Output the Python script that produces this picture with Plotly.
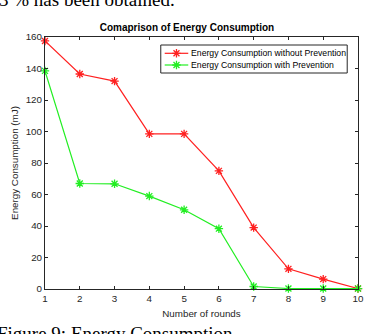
import plotly.graph_objects as go

rounds = [1, 2, 3, 4, 5, 6, 7, 8, 9, 10]
without_prev = [157.5, 136.5, 132, 98.5, 98.5, 75, 39, 12.8, 6.3, 0.3]
with_prev = [138.5, 67, 66.8, 59, 50.3, 38.3, 1.6, 0.3, 0.3, 0.3]
y_ticks = [0, 20, 40, 60, 80, 100, 120, 140, 160]
x_ticks = [1, 2, 3, 4, 5, 6, 7, 8, 9, 10]
series_names = ["Energy Consumption without Prevention", "Energy Consumption with Prevention"]

RED = "#ff2020"
GREEN = "#22ee22"
AX = "#262626"
colors = [RED, GREEN]

L, R, T, B = 45, 11, 37, 45
W, H = 375, 334
pw, ph = W - L - R, H - T - B

def px(x):
    return (x - L) / pw

def py(y):
    return (H - B - y) / ph

fig = go.Figure()
for name, vals, col in zip(series_names, [without_prev, with_prev], colors):
    fig.add_trace(go.Scatter(
        x=rounds, y=vals, mode="lines+markers", name=name,
        line=dict(color=col, width=1.2),
        marker=dict(symbol="asterisk-open", size=7, line=dict(color=col, width=1.3), color=col),
        cliponaxis=False, showlegend=False,
    ))

# manual legend (MATLAB-style compact box), in pixel space on a hidden overlay axis
leg_box = (163, 45, 353, 73)
leg_rows = [53.3, 65]
fig.add_shape(type="rect", xref="paper", yref="paper",
              x0=px(leg_box[0]), x1=px(leg_box[2]), y0=py(leg_box[1]), y1=py(leg_box[3]),
              line=dict(color=AX, width=1), fillcolor="white", layer="below")
for name, col, ry in zip(series_names, colors, leg_rows):
    fig.add_trace(go.Scatter(
        x=[167, 179, 191], y=[ry, ry, ry], xaxis="x2", yaxis="y2",
        mode="lines", line=dict(color=col, width=1.2), showlegend=False, hoverinfo="skip"))
    fig.add_trace(go.Scatter(
        x=[179], y=[ry], xaxis="x2", yaxis="y2", mode="markers",
        marker=dict(symbol="asterisk-open", size=7, line=dict(color=col, width=1.3), color=col),
        showlegend=False, hoverinfo="skip", cliponaxis=False))
    fig.add_annotation(text=name, xref="paper", yref="paper", x=px(192), y=py(ry),
                       xanchor="left", yanchor="middle", showarrow=False,
                       font=dict(family="Liberation Sans, Arial", size=8.7, color="black"))

axis_common = dict(
    showline=True, linecolor=AX, linewidth=1, mirror="ticks",
    ticks="inside", ticklen=3, tickcolor=AX, tickwidth=1,
    showgrid=False, zeroline=False,
    tickfont=dict(family="Liberation Sans, Arial", size=9.8, color=AX),
)

fig.update_layout(
    width=W, height=H,
    margin=dict(l=L, r=R, t=T, b=B),
    paper_bgcolor="white", plot_bgcolor="white",
    title=dict(text="<b>Comaprison of Energy Consumption</b>",
               font=dict(family="Liberation Sans, Arial", size=10, color="black"),
               x=px(204), xanchor="center", y=1 - 27 / H, yanchor="middle"),
    xaxis=dict(range=[1, 10], tickvals=x_ticks, **axis_common,
               title=dict(text="Number of rounds", standoff=7,
                          font=dict(family="Liberation Sans, Arial", size=9.8, color=AX))),
    yaxis=dict(range=[0, 160], tickvals=y_ticks, **axis_common,
               title=dict(text="Energy Consumption (mJ)", standoff=5,
                          font=dict(family="Liberation Sans, Arial", size=9.8, color=AX))),
    xaxis2=dict(overlaying="x", range=[L, W - R], visible=False, fixedrange=True),
    yaxis2=dict(overlaying="y", range=[H - B, T], visible=False, fixedrange=True),
    showlegend=False,
)

fig.add_annotation(text="3 % has been obtained.", xref="paper", yref="paper",
                   x=px(-4), y=py(12), xanchor="left", yanchor="bottom",
                   showarrow=False,
                   font=dict(family="Liberation Serif, Times New Roman", size=19, color="black"))
fig.add_annotation(text="Figure 9: Energy Consumption", xref="paper", yref="paper",
                   x=px(-6), y=py(321), xanchor="left", yanchor="top",
                   showarrow=False,
                   font=dict(family="Liberation Serif, Times New Roman", size=19, color="black"))

fig.write_html("out.html")
